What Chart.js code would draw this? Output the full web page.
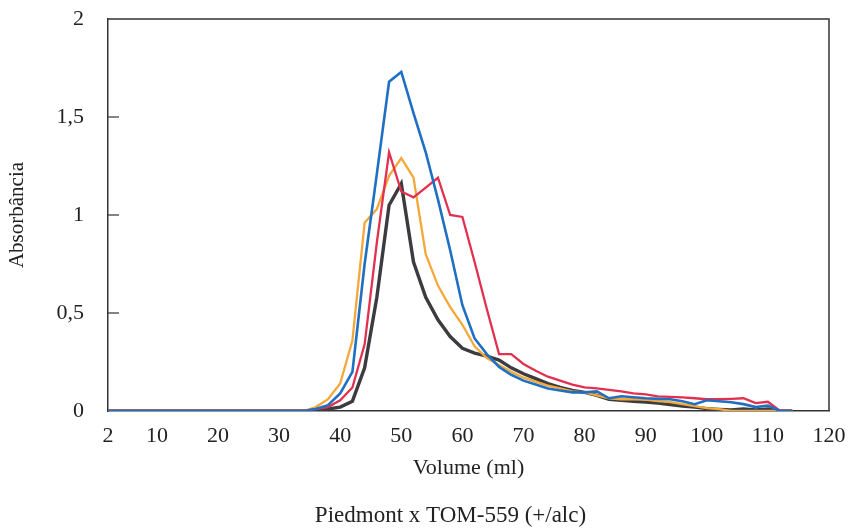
<!DOCTYPE html>
<html>
<head>
<meta charset="utf-8">
<script src="https://cdn.jsdelivr.net/npm/chart.js@4/dist/chart.umd.min.js"></script>
<style>
  html, body { margin: 0; padding: 0; background: #ffffff; }
  #wrap { width: 849px; height: 531px; }
</style>
</head>
<body>
<div id="wrap"><canvas id="c" width="849" height="531"></canvas></div>
<script>
// ---- Data ----
const chartTitle = "Piedmont x TOM-559 (+/alc)";
const xAxisTitle = "Volume (ml)";
const yAxisTitle = "Absorbância";

const xTickValues = [2, 10, 20, 30, 40, 50, 60, 70, 80, 90, 100, 110, 120];
const yTickValues = [0, 0.5, 1, 1.5, 2];
const yTickLabels = ["0", "0,5", "1", "1,5", "2"];

const volumes = [2, 4, 6, 8, 10, 12, 14, 16, 18, 20, 22, 24, 26, 28, 30, 32,
  34, 36, 38, 40, 42, 44, 46, 48, 50, 52, 54, 56, 58, 60, 62, 64, 66, 68, 70,
  72, 74, 76, 78, 80, 82, 84, 86, 88, 90, 92, 94, 96, 98, 100, 102, 104, 106,
  108, 110, 112, 114];

const blueSeries = [0, 0, 0, 0, 0, 0, 0, 0, 0, 0, 0, 0, 0, 0, 0, 0,
  0, 0.01, 0.03, 0.09, 0.2, 0.75, 1.21, 1.68, 1.73, 1.52, 1.32, 1.08, 0.82, 0.54, 0.37, 0.29, 0.225, 0.185, 0.155,
  0.135, 0.115, 0.105, 0.095, 0.095, 0.1, 0.065, 0.075, 0.07, 0.065, 0.062, 0.06, 0.05, 0.035, 0.055, 0.05, 0.045, 0.035,
  0.02, 0.028, 0, 0];

const redSeries = [0, 0, 0, 0, 0, 0, 0, 0, 0, 0, 0, 0, 0, 0, 0, 0,
  0, 0.01, 0.02, 0.055, 0.12, 0.34, 0.86, 1.32, 1.12, 1.09, 1.14, 1.19, 1.0, 0.99, 0.76, 0.52, 0.29, 0.29, 0.24,
  0.205, 0.175, 0.155, 0.135, 0.12, 0.115, 0.108, 0.1, 0.09, 0.085, 0.075, 0.072, 0.07, 0.065, 0.06, 0.06, 0.062, 0.065,
  0.04, 0.047, 0, 0];

const orangeSeries = [0, 0, 0, 0, 0, 0, 0, 0, 0, 0, 0, 0, 0, 0, 0, 0,
  0, 0.02, 0.06, 0.14, 0.36, 0.96, 1.03, 1.2, 1.29, 1.19, 0.8, 0.64, 0.53, 0.44, 0.33, 0.27, 0.235, 0.2, 0.17,
  0.15, 0.13, 0.115, 0.1, 0.095, 0.08, 0.065, 0.06, 0.06, 0.058, 0.05, 0.045, 0.035, 0.025, 0.015, 0.01, 0, 0,
  0, 0, 0, 0];

const blackSeries = [0, 0, 0, 0, 0, 0, 0, 0, 0, 0, 0, 0, 0, 0, 0, 0,
  0, 0, 0.01, 0.02, 0.05, 0.22, 0.58, 1.05, 1.16, 0.76, 0.58, 0.465, 0.38, 0.32, 0.295, 0.28, 0.26, 0.22, 0.19,
  0.165, 0.14, 0.12, 0.105, 0.095, 0.08, 0.06, 0.055, 0.05, 0.045, 0.04, 0.033, 0.025, 0.02, 0.012, 0.008, 0.005, 0.01,
  0.005, 0.01, 0, 0];

// ---- Build chart ----
const toPoints = (arr) => volumes.map((v, i) => ({ x: v, y: arr[i] }));
const FONT = "'Liberation Serif', 'DejaVu Serif', serif";
const TEXT = '#222222';
const AXIS = '#333333';

const framePlugin = {
  id: 'frame',
  afterDatasetsDraw(chart) {
    const { ctx, chartArea: a, scales } = chart;
    ctx.save();
    ctx.strokeStyle = AXIS;
    ctx.lineWidth = 1.5;
    ctx.beginPath();
    ctx.moveTo(a.left, a.top);
    ctx.lineTo(a.right, a.top);
    ctx.lineTo(a.right, a.bottom);
    ctx.stroke();
    // inner tick marks on the y axis
    ctx.lineWidth = 1.2;
    yTickValues.forEach(v => {
      if (v === 0 || v === 2) return;
      const py = scales.y.getPixelForValue(v);
      ctx.beginPath();
      ctx.moveTo(a.left, py);
      ctx.lineTo(a.left + 11, py);
      ctx.stroke();
    });
    ctx.restore();
  },
  afterDraw(chart) {
    // caption below the chart (as in the source figure, slightly left of the plot centre)
    const { ctx, chartArea: a } = chart;
    ctx.save();
    ctx.fillStyle = TEXT;
    ctx.font = "23px " + FONT;
    ctx.textAlign = 'center';
    ctx.textBaseline = 'middle';
    ctx.fillText(chartTitle, (a.left + a.right) / 2 - 18, 516);
    ctx.restore();
  }
};

new Chart(document.getElementById('c'), {
  type: 'line',
  data: {
    datasets: [
      { label: 'azul', data: toPoints(blueSeries), borderColor: '#1f6fc2', borderWidth: 2.6 },
      { label: 'vermelho', data: toPoints(redSeries), borderColor: '#e2304f', borderWidth: 2.3 },
      { label: 'laranja', data: toPoints(orangeSeries), borderColor: '#f5a83a', borderWidth: 2.3 },
      { label: 'preto', data: toPoints(blackSeries), borderColor: '#3c3c40', borderWidth: 3.4 }
    ]
  },
  options: {
    responsive: false,
    animation: false,
    parsing: true,
    elements: { point: { radius: 0 }, line: { tension: 0, fill: false } },
    layout: { padding: { left: 0, right: 20, top: 19, bottom: 27.2 } },
    plugins: {
      legend: { display: false },
      tooltip: { enabled: false },
      title: { display: false }
    },
    scales: {
      x: {
        type: 'linear',
        min: 2,
        max: 120,
        afterBuildTicks: (s) => { s.ticks = xTickValues.map(v => ({ value: v })); },
        afterFit: (s) => { s.height = 92.8; s.paddingLeft = 0; s.paddingRight = 0; },
        ticks: {
          autoSkip: false,
          maxRotation: 0,
          padding: 12,
          color: TEXT,
          font: { family: FONT, size: 22 },
          callback: (v) => String(v)
        },
        grid: { display: false, drawTicks: false },
        border: { display: true, color: AXIS, width: 1.5 },
        title: {
          display: true,
          text: xAxisTitle,
          color: TEXT,
          font: { family: FONT, size: 22 },
          padding: { top: 0, bottom: 22.6 }
        }
      },
      y: {
        type: 'linear',
        min: 0,
        max: 2,
        afterBuildTicks: (s) => { s.ticks = yTickValues.map(v => ({ value: v })); },
        afterFit: (s) => { s.width = 108; s.paddingTop = 0; s.paddingBottom = 0; },
        ticks: {
          padding: 24,
          color: TEXT,
          font: { family: FONT, size: 22 },
          callback: (v) => {
            const i = yTickValues.indexOf(v);
            return i >= 0 ? yTickLabels[i] : '';
          }
        },
        grid: { display: false, drawTicks: false },
        border: { display: true, color: AXIS, width: 1.5 },
        title: {
          display: true,
          text: yAxisTitle,
          color: TEXT,
          font: { family: FONT, size: 21 },
          padding: { top: 4.4, bottom: 0 }
        }
      }
    }
  },
  plugins: [framePlugin]
});
</script>
</body>
</html>
